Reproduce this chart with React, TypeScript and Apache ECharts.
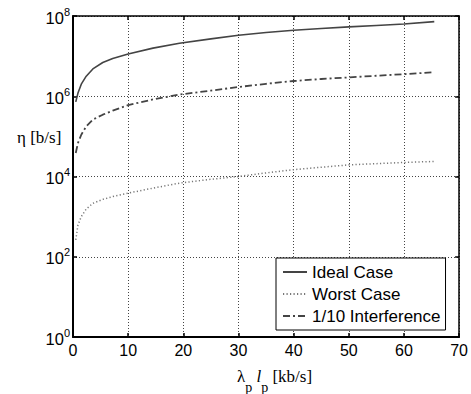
import React, { useEffect, useRef } from "react";
import * as echarts from "echarts";

const xValues = [0.5, 0.9, 1.5, 2.4, 3.6, 5.4, 7.2, 10, 14.5, 19.3, 25, 30, 35, 40, 45, 50, 55, 60, 65.5];
const idealCase = [7.24e5, 1.2e6, 2.0e6, 3.16e6, 4.79e6, 6.92e6, 8.71e6, 1.135e7, 1.585e7, 2.09e7, 2.69e7, 3.31e7, 3.89e7, 4.42e7, 4.9e7, 5.37e7, 5.82e7, 6.31e7, 7.24e7];
const worstCase = [263, 617, 1000, 1550, 2140, 2690, 3160, 3850, 5130, 6840, 8510, 10000, 12300, 14800, 17000, 19500, 20900, 22400, 23700];
const interference = [3.85e4, 6.84e4, 1.1e5, 1.78e5, 2.63e5, 3.47e5, 4.37e5, 6.03e5, 8.32e5, 1.1e6, 1.38e6, 1.7e6, 2.04e6, 2.4e6, 2.69e6, 2.95e6, 3.24e6, 3.55e6, 3.98e6];
const seriesNames = ["Ideal Case", "Worst Case", "1/10 Interference"];
const xTicks = { min: 0, max: 70, interval: 10 };
const yTicks = { min: 1, max: 1e8, interval: 2 };

const SANS = "'Liberation Sans', Arial, sans-serif";
const SERIF = "'Liberation Serif', 'Times New Roman', serif";

export default function App() {
  const ref = useRef<HTMLDivElement>(null);
  useEffect(() => {
    if (!ref.current) return;
    const chart = echarts.init(ref.current, undefined, { renderer: "svg" });
    const pairs = (ys: number[]) => xValues.map((x, i) => [x, ys[i]]);
    const gridLine = { show: true, lineStyle: { color: "#444", width: 1, type: [1, 2] as any } };
    chart.setOption({
      animation: false,
      backgroundColor: "#fff",
      grid: { left: 73, top: 16, width: 388, height: 321, containLabel: false },
      xAxis: [
        {
          type: "value",
          min: xTicks.min,
          max: xTicks.max,
          interval: xTicks.interval,
          position: "bottom",
          axisLine: { show: true, onZero: false, lineStyle: { color: "#000", width: 2 } },
          axisTick: { show: true, inside: true, length: 4, lineStyle: { color: "#000", width: 1.5 } },
          axisLabel: { color: "#000", fontSize: 16, fontFamily: SANS, margin: 5 },
          splitLine: gridLine,
        },
        {
          type: "value",
          min: xTicks.min,
          max: xTicks.max,
          interval: xTicks.interval,
          position: "top",
          axisLine: { show: true, onZero: false, lineStyle: { color: "#000", width: 1.5 } },
          axisTick: { show: true, inside: true, length: 4, lineStyle: { color: "#000", width: 1.5 } },
          axisLabel: { show: false },
          splitLine: { show: false },
        },
      ],
      yAxis: [
        {
          type: "log",
          logBase: 10,
          min: yTicks.min,
          max: yTicks.max,
          interval: yTicks.interval,
          position: "left",
          axisLine: { show: true, onZero: false, lineStyle: { color: "#000", width: 2 } },
          axisTick: { show: true, inside: true, length: 4, lineStyle: { color: "#000", width: 1.5 } },
          minorTick: { show: false },
          axisLabel: {
            margin: 3,
            formatter: (v: number) => `{b|10}{s|${Math.round(Math.log10(v))}}`,
            rich: {
              b: { fontSize: 16.5, fontFamily: SANS, color: "#000", verticalAlign: "bottom", lineHeight: 20 },
              s: { fontSize: 11, fontFamily: SANS, color: "#000", verticalAlign: "top", lineHeight: 14 },
            },
          },
          splitLine: gridLine,
        },
        {
          type: "log",
          logBase: 10,
          min: yTicks.min,
          max: yTicks.max,
          interval: yTicks.interval,
          position: "right",
          axisLine: { show: true, onZero: false, lineStyle: { color: "#000", width: 1.5 } },
          axisTick: { show: true, inside: true, length: 4, lineStyle: { color: "#000", width: 1.5 } },
          axisLabel: { show: false },
          splitLine: { show: false },
        },
      ],
      legend: {
        orient: "vertical",
        left: 276,
        top: 258,
        padding: [5, 5, 5, 6],
        itemGap: 4,
        itemWidth: 24,
        itemHeight: 18,
        borderColor: "#000",
        borderWidth: 1,
        borderRadius: 0,
        backgroundColor: "#fff",
        itemStyle: { opacity: 0, borderWidth: 0 },
        textStyle: { fontSize: 17, fontFamily: SANS, color: "#000", lineHeight: 18 },
        data: seriesNames,
      },
      series: [
        {
          name: seriesNames[0],
          type: "line",
          data: pairs(idealCase),
          symbol: "none",
          lineStyle: { color: "#444", width: 1.6, type: "solid" },
          itemStyle: { color: "#444" },
        },
        {
          name: seriesNames[1],
          type: "line",
          data: pairs(worstCase),
          symbol: "none",
          lineStyle: { color: "#777", width: 1.5, type: [1.2, 2.3] },
          itemStyle: { color: "#777" },
        },
        {
          name: seriesNames[2],
          type: "line",
          data: pairs(interference),
          symbol: "none",
          lineStyle: { color: "#444", width: 1.8, type: [7, 3, 2, 3] },
          itemStyle: { color: "#444" },
        },
      ],
      graphic: [
        {
          type: "text",
          left: 17,
          top: 129,
          style: { text: "η [b/s]", fontSize: 17, fontFamily: SERIF, fill: "#000" },
        },
        {
          type: "text",
          left: 237,
          top: 368,
          style: {
            text: "{a|λ}{sub|p}{a| }{i|l}{sub|p}{a| [kb/s]}",
            rich: {
              a: { fontSize: 17, fontFamily: SERIF, fill: "#000", verticalAlign: "top", lineHeight: 26 },
              i: { fontSize: 17, fontFamily: SERIF, fontStyle: "italic", fill: "#000", verticalAlign: "top", lineHeight: 26 },
              sub: { fontSize: 14, fontFamily: SERIF, fill: "#000", verticalAlign: "bottom", lineHeight: 16 },
            },
          },
        },
      ],
    });
    return () => chart.dispose();
  }, []);
  return <div ref={ref} style={{ width: 471, height: 394, position: "absolute", left: 0, top: 0 }} />;
}
